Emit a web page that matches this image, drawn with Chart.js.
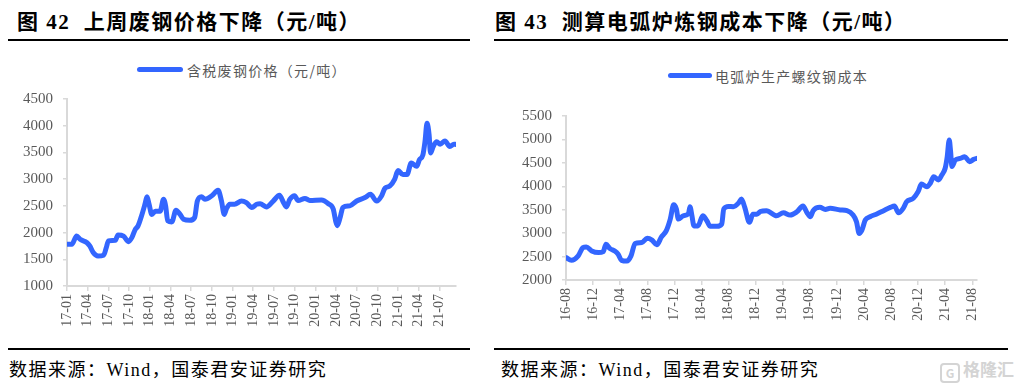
<!DOCTYPE html>
<html>
<head>
<meta charset="utf-8">
<script src="https://cdn.jsdelivr.net/npm/chart.js@4/dist/chart.umd.min.js"></script>
<style>
  body { margin: 0; background: #fff; width: 1014px; height: 387px; overflow: hidden; position: relative; }
  .abs { position: absolute; }
  .title { font-family: "Liberation Serif", "Noto Sans CJK SC", serif; font-weight: bold; font-size: 21px; line-height: 24px; color: #000; white-space: nowrap; letter-spacing: 1.5px; }
  .rule { height: 2px; background: #000; }
  .src { font-family: "Liberation Serif", "Noto Sans CJK SC", serif; font-size: 18px; line-height: 24px; color: #000; white-space: nowrap; letter-spacing: 1.5px; }
  .legline { height: 5px; border-radius: 3px; background: #3366ff; }
  .legtxt { font-family: "Noto Sans CJK SC", sans-serif; font-size: 14px; line-height: 20px; color: #595959; white-space: nowrap; letter-spacing: 1.3px; }
  .wm { font-family: "Noto Sans CJK SC", sans-serif; font-weight: bold; font-size: 17px; line-height: 22px; color: #d4d4d4; white-space: nowrap; }
  .wm span { display: inline-block; width: 16px; height: 16px; line-height: 16px; border: 2px solid #d4d4d4; border-radius: 4px; font-size: 12px; text-align: center; margin-right: 3px; vertical-align: -2px; }
</style>
</head>
<body>

<div class="abs title" style="left:17px;top:10px;">图 42&nbsp; 上周废钢价格下降（元/吨）</div>
<div class="abs rule" style="left:8px;top:39px;width:462px;"></div>
<div class="abs legline" style="left:137px;top:67px;width:46px;"></div>
<div class="abs legtxt" style="left:187px;top:60px;">含税废钢价格（元/吨）</div>
<canvas id="scrapChart" class="abs" width="470" height="260" style="left:0;top:80px;"></canvas>
<div class="abs rule" style="left:8px;top:348px;width:462px;"></div>
<div class="abs src" style="left:9px;top:358px;">数据来源：Wind，国泰君安证券研究</div>

<div class="abs title" style="left:495px;top:10px;">图 43&nbsp; 测算电弧炉炼钢成本下降（元/吨）</div>
<div class="abs rule" style="left:494px;top:39px;width:514px;"></div>
<div class="abs legline" style="left:668px;top:73px;width:44px;"></div>
<div class="abs legtxt" style="left:715px;top:66px;">电弧炉生产螺纹钢成本</div>
<canvas id="eafChart" class="abs" width="520" height="260" style="left:494px;top:80px;"></canvas>
<div class="abs rule" style="left:494px;top:348px;width:514px;"></div>
<div class="abs src" style="left:501px;top:358px;">数据来源：Wind，国泰君安证券研究</div>
<div class="abs wm" style="left:940px;top:358px;"><span>G</span>格隆汇</div>

<script>
// ---- DATA: figure 42, scrap price incl. tax (x = months since 2017-01) ----
const scrapMonths = [
    0, 0.7, 1.4, 1.9, 2.9, 3.3, 3.8, 4.5, 5.3, 5.7,
    6, 7, 7.4, 8.2, 8.9, 9.4, 9.9, 10.3, 10.8, 11.3,
    11.6, 11.9, 12.3, 12.8, 13.5, 14, 14.3, 14.6, 15.2, 15.8,
    16.4, 16.9, 17.8, 18.5, 18.9, 19.5, 20, 21, 21.9, 22.4,
    22.8, 23.1, 23.6, 24.3, 25.3, 26, 26.8, 27.5, 28, 28.9,
    29.9, 30.8, 31.4, 31.8, 32.3, 33, 33.5, 34.5, 35.2, 36.9,
    37.9, 38.6, 39, 39.2, 39.6, 40, 41, 42, 43.2, 44,
    44.9, 45.6, 46.1, 46.8, 47.5, 48, 48.7, 49.3, 49.9, 50.7,
    51.1, 51.6, 51.9, 52.2, 52.5, 52.7, 53.1, 53.6, 54.1, 54.8,
    55.5, 56.1, 56.4
];
const scrapPrice = [
    1780, 1780, 1935, 1875, 1810, 1750, 1625, 1560, 1575, 1720,
    1845, 1855, 1955, 1935, 1830, 1905, 2060, 2125, 2310, 2530,
    2670, 2530, 2340, 2400, 2400, 2625, 2500, 2220, 2200, 2420,
    2340, 2250, 2230, 2280, 2590, 2670, 2625, 2690, 2790, 2590,
    2340, 2440, 2530, 2530, 2590, 2560, 2470, 2530, 2540, 2480,
    2590, 2700, 2560, 2480, 2620, 2690, 2600, 2640, 2600, 2610,
    2540, 2440, 2190, 2130, 2280, 2470, 2500, 2590, 2655, 2715,
    2590, 2685, 2830, 2870, 2995, 3160, 3085, 3085, 3300, 3240,
    3365, 3455, 3700, 4045, 3830, 3490, 3610, 3700, 3655, 3715,
    3610, 3655, 3650
];
const scrapTickLabels = ['17-01', '17-04', '17-07', '17-10', '18-01', '18-04', '18-07', '18-10',
    '19-01', '19-04', '19-07', '19-10', '20-01', '20-04', '20-07', '20-10', '21-01', '21-04', '21-07'];

// ---- DATA: figure 43, EAF rebar cost (x = months since 2016-08) ----
const eafMonths = [
    0, 0.8, 1.8, 2.5, 3, 3.8, 4.8, 5.5, 5.9, 6.5,
    7.2, 7.7, 8.2, 9, 9.6, 10.2, 11.2, 12, 12.7, 13.4,
    14.1, 14.8, 15.4, 15.9, 16.3, 16.6, 17.3, 18.1, 18.3, 18.6,
    18.9, 19.5, 20.2, 20.8, 21.3, 22.3, 23, 23.3, 24, 24.7,
    25.5, 25.9, 26.4, 27.1, 27.6, 28.2, 28.7, 29.6, 31.1, 32.1,
    33.1, 34.1, 35, 35.6, 36.1, 36.5, 37.5, 38.3, 39, 40.5,
    41.5, 42.4, 42.9, 43.3, 43.7, 44.2, 44.9, 45.9, 46.9, 47.9,
    48.5, 49.1, 49.8, 50.3, 51.3, 52, 52.5, 53.3, 53.8, 54.3,
    55, 55.5, 56, 56.3, 56.6, 56.8, 57, 57.5, 58.2, 58.9,
    59.6, 60.2, 60.7
];
const eafCost = [
    2480, 2420, 2515, 2690, 2705, 2620, 2585, 2605, 2765, 2670,
    2620, 2550, 2420, 2405, 2515, 2780, 2800, 2890, 2850, 2750,
    2920, 3050, 3300, 3605, 3515, 3300, 3370, 3420, 3565, 3370,
    3155, 3155, 3370, 3265, 3145, 3145, 3195, 3515, 3570, 3565,
    3645, 3730, 3550, 3230, 3405, 3405, 3460, 3480, 3370, 3435,
    3385, 3455, 3580, 3435, 3350, 3480, 3550, 3505, 3530, 3495,
    3480, 3385, 3245, 2995, 3065, 3280, 3350, 3410, 3480, 3550,
    3580, 3435, 3530, 3670, 3745, 3885, 4050, 3990, 4065, 4205,
    4135, 4240, 4385, 4630, 4990, 4740, 4420, 4560, 4595, 4630,
    4525, 4575, 4595
];
const eafTickLabels = ['16-08', '16-12', '17-04', '17-08', '17-12', '18-04', '18-08', '18-12',
    '19-04', '19-08', '19-12', '20-04', '20-08', '20-12', '21-04', '21-08'];

const LINE_BLUE = '#3366ff';
const AXIS_GREY = '#d9d9d9';
const LABEL_GREY = '#595959';

function makeChart(id, months, values, tickLabels, tickStep, yMin, yMax, xMax, box) {
    const points = months.map((m, i) => ({ x: m, y: values[i] }));
    return new Chart(document.getElementById(id), {
        type: 'line',
        data: {
            datasets: [{
                data: points,
                borderColor: LINE_BLUE,
                borderWidth: 5,
                pointRadius: 0,
                tension: 0.3,
                cubicInterpolationMode: 'monotone',
                borderCapStyle: 'round',
                borderJoinStyle: 'round',
                fill: false
            }]
        },
        options: {
            responsive: false,
            animation: false,
            layout: { padding: { top: box.top, right: box.right, left: 0, bottom: 0 } },
            plugins: { legend: { display: false }, tooltip: { enabled: false } },
            scales: {
                x: {
                    type: 'linear',
                    min: 0,
                    max: xMax,
                    afterBuildTicks: s => { s.ticks = tickLabels.map((_, i) => ({ value: i * tickStep })); },
                    afterFit: s => { s.height = box.xHeight; },
                    grid: { drawOnChartArea: false, drawTicks: true, tickLength: 5, color: AXIS_GREY, lineWidth: 1.5 },
                    border: { display: true, color: AXIS_GREY, width: 2 },
                    ticks: {
                        autoSkip: false,
                        minRotation: 90,
                        maxRotation: 90,
                        padding: 3,
                        color: LABEL_GREY,
                        font: { family: 'Liberation Serif', size: 14 },
                        callback: (v, i) => tickLabels[i]
                    }
                },
                y: {
                    min: yMin,
                    max: yMax,
                    afterFit: s => { s.width = box.yWidth; },
                    grid: { drawOnChartArea: false, drawTicks: true, tickLength: 4, color: AXIS_GREY, lineWidth: 1.5 },
                    border: { display: true, color: AXIS_GREY, width: 2 },
                    ticks: {
                        stepSize: 500,
                        padding: 10,
                        color: LABEL_GREY,
                        font: { family: 'Liberation Serif', size: 15 },
                        callback: v => String(v)
                    }
                }
            }
        }
    });
}

makeChart('scrapChart', scrapMonths, scrapPrice, scrapTickLabels, 3, 1000, 4500, 56.4,
    { top: 17, right: 14, yWidth: 67, xHeight: 54 });
makeChart('eafChart', eafMonths, eafCost, eafTickLabels, 4, 2000, 5500, 60.7,
    { top: 36, right: 37, yWidth: 72, xHeight: 60 });
</script>
</body>
</html>
